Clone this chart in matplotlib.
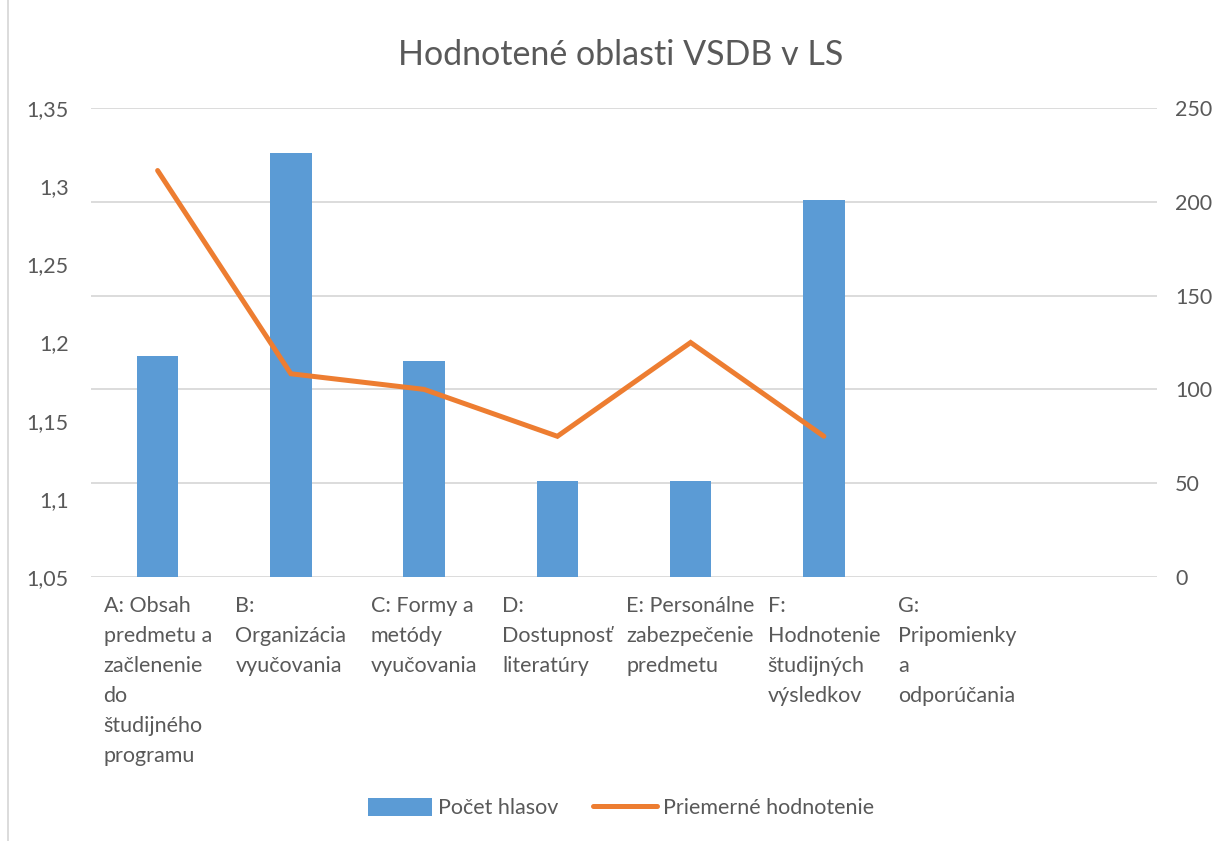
import numpy as np
import matplotlib.pyplot as plt
from matplotlib.ticker import FuncFormatter, MultipleLocator
from matplotlib.patches import Rectangle

plt.rcParams['font.family'] = ['Lato', 'DejaVu Sans']

# Dáta
kategorie = [
    "A: Obsah\npredmetu a\nzačlenenie\ndo\nštudijného\nprogramu",
    "B:\nOrganizácia\nvyučovania",
    "C: Formy a\nmetódy\nvyučovania",
    "D:\nDostupnosť\nliteratúry",
    "E: Personálne\nzabezpečenie\npredmetu",
    "F:\nHodnotenie\nštudijných\nvýsledkov",
    "G:\nPripomienky\na\nodporúčania",
]
pocet_hlasov = [118, 226, 115, 51, 51, 201, 0]
priemerne_hodnotenie = [1.31, 1.18, 1.17, 1.14, 1.20, 1.14, np.nan]

modra = "#5B9BD5"
oranzova = "#ED7D31"
seda_text = "#595959"
seda_mriezka = "#D9D9D9"
fs = 15.5

fig = plt.figure(figsize=(12.22, 8.41), dpi=100)
ax = fig.add_axes([91 / 1222, 1 - 577 / 841, (1157 - 91) / 1222, (577 - 108) / 841])
ax2 = ax.twinx()

x = np.arange(len(kategorie))

# Stĺpce - počet hlasov (pravá os)
ax.bar(x, pocet_hlasov, width=0.31, color=modra, label="Počet hlasov", zorder=2)
ax.set_ylim(0, 250)
ax.yaxis.set_major_locator(MultipleLocator(50))
ax.yaxis.tick_right()
ax.grid(axis="y", color=seda_mriezka, linewidth=1.3, zorder=0)
ax.set_axisbelow(True)
ax.set_xlim(-0.5, 7.5)
ax.set_xticks(x)
ax.set_xticklabels(kategorie, ha="center", multialignment="left", linespacing=1.62)
ax.tick_params(axis="x", length=0, pad=14, labelsize=fs, labelcolor=seda_text)
ax.tick_params(axis="y", length=0, pad=13, labelsize=fs, labelcolor=seda_text)
for s in ax.spines.values():
    s.set_visible(False)

# Čiara - priemerné hodnotenie (ľavá os)
ax2.plot(x, priemerne_hodnotenie, color=oranzova, linewidth=3.6,
         solid_capstyle="round", solid_joinstyle="miter", label="Priemerné hodnotenie")
ax2.set_ylim(1.05, 1.35)
ax2.set_yticks(np.arange(1.05, 1.3501, 0.05))
ax2.yaxis.set_major_formatter(FuncFormatter(lambda v, p: f"{v:.2f}".rstrip("0").replace(".", ",")))
ax2.yaxis.set_ticks_position("left")
ax2.yaxis.set_label_position("left")
ax2.tick_params(axis="y", length=0, pad=16, labelsize=fs, labelcolor=seda_text)
for s in ax2.spines.values():
    s.set_visible(False)

fig.text(0.508, 1 - 55 / 841, "Hodnotené oblasti VSDB v LS", ha="center", va="center",
         fontsize=24.5, color=seda_text)

h1, l1 = ax.get_legend_handles_labels()
h2, l2 = ax2.get_legend_handles_labels()
fig.legend(h1 + h2, l1 + l2, loc="center", bbox_to_anchor=(0.508, 1 - 808 / 841),
           ncol=2, frameon=False, fontsize=fs, labelcolor=seda_text,
           handlelength=3.0, handleheight=0.9, columnspacing=1.6, handletextpad=0.25)

# Rámik grafu
fig.patches.append(Rectangle((8 / 1222, -0.01), 1.5, 1.5, transform=fig.transFigure,
                             fill=False, edgecolor=seda_mriezka, linewidth=1.3))

fig.savefig("out.png", dpi=100)
